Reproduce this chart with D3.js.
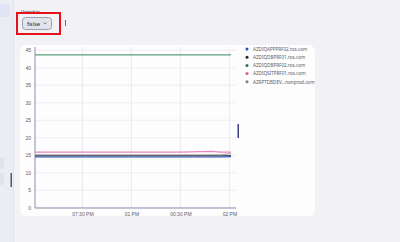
<!DOCTYPE html>
<html>
<head>
<meta charset="utf-8">
<script src="https://cdn.jsdelivr.net/npm/d3@7"></script>
<style>
  html, body { margin: 0; padding: 0; background: #f1f1f6; }
  body { width: 400px; height: 242px; overflow: hidden; font-family: "Noto Sans", "DejaVu Sans", sans-serif; }
  .tick text { fill: #555a66; font-size: 5px; }
</style>
</head>
<body>
<svg id="chart" width="400" height="242"></svg>
<script>
// series names and colours
var seriesNames = ["AZDIQAPPPRF02.ros.com", "AZDIQDBPRF01.ros.com", "AZDIQDBPRF02.ros.com", "AZDIQSITPRF01.ros.com", "AZRPTDBDEV...nonprod.com"];
var legendColors = ["#1b4fd0", "#222428", "#1f7a4c", "#e0559a", "#80808a"];
var lineColors = ["#3555c4", "#45474f", "#5aa27b", "#e887ba", "#a7a7ad"];

// sample times (HH:MM, PM afternoon)
var times = ["12:01", "12:30", "13:00", "13:30", "13:49", "13:55", "14:01"];
var blueVals   = [14.5, 14.5, 14.5, 14.5, 14.5, 14.5, 14.6];
var blackVals  = [14.8, 14.8, 14.8, 14.8, 14.8, 14.8, 14.9];
var greenVals  = [43.7, 43.7, 43.7, 43.7, 43.7, 43.7, 43.7];
var pinkVals   = [15.9, 15.9, 15.9, 15.9, 16.1, 15.9, 15.9];
var greyVals   = [15.1, 15.1, 15.1, 15.1, 15.1, 15.1, 15.5];
var allVals = [blueVals, blackVals, greenVals, pinkVals, greyVals];

var yTicks = [0, 5, 10, 15, 20, 25, 30, 35, 40, 45];
var xTickTimes = ["12:30", "13:00", "13:30", "14:00"];
var xTickLabels = ["07:30 PM", "01 PM", "00:30 PM", "02 PM"];

var parse = d3.timeParse("%H:%M");
var svg = d3.select("#chart");

// left sidebar
svg.append("rect").attr("x", 0).attr("y", 0).attr("width", 13).attr("height", 242).attr("fill", "#ececf3");
svg.append("line").attr("x1", 13.5).attr("x2", 13.5).attr("y1", 0).attr("y2", 242).attr("stroke", "#e2e2ea");
svg.append("rect").attr("x", -4).attr("y", 4).attr("width", 14).attr("height", 13).attr("rx", 3).attr("fill", "#e1e4f4");
svg.append("rect").attr("x", -4).attr("y", 157).attr("width", 8).attr("height", 12).attr("rx", 2).attr("fill", "#e2e2ea");
svg.append("rect").attr("x", -4).attr("y", 173).attr("width", 8).attr("height", 12).attr("rx", 2).attr("fill", "#e2e2ea");
svg.append("rect").attr("x", 10.5).attr("y", 173).attr("width", 1.5).attr("height", 14).attr("fill", "#55566e");

// variable picker
svg.append("text").attr("x", 21).attr("y", 14).attr("font-size", 5).attr("fill", "#3f4350").text("Variable");
svg.append("rect").attr("x", 22.5).attr("y", 17.5).attr("width", 29).attr("height", 12).attr("rx", 3)
  .attr("fill", "#e3e3ee").attr("stroke", "#8a8aa0").attr("stroke-width", 0.8);
svg.append("text").attr("x", 27).attr("y", 25.5).attr("font-size", 6).attr("fill", "#333").text("false");
svg.append("path").attr("d", "M43.5,22.5 L45,24 L46.5,22.5").attr("fill", "none").attr("stroke", "#555").attr("stroke-width", 0.7);
svg.append("rect").attr("x", 17).attr("y", 13).attr("width", 43).attr("height", 21)
  .attr("fill", "none").attr("stroke", "#e8101a").attr("stroke-width", 2);
svg.append("rect").attr("x", 65).attr("y", 20).attr("width", 1).attr("height", 6).attr("fill", "#6b6b80");

// card
svg.append("rect").attr("x", 20).attr("y", 45).attr("width", 295).attr("height", 171).attr("rx", 6).attr("fill", "#fdfdfe");

var x = d3.scaleTime().domain([parse("12:01"), parse("14:01")]).range([35, 231]);
var y = d3.scaleLinear().domain([0, 45]).range([207.7, 50.3]);

// grid
svg.append("g").selectAll("line").data(yTicks).join("line")
  .attr("x1", 35).attr("x2", 236).attr("y1", function(d) { return y(d); }).attr("y2", function(d) { return y(d); })
  .attr("stroke", "#ebebf1").attr("stroke-width", 0.8);
svg.append("g").selectAll("line").data(xTickTimes).join("line")
  .attr("x1", function(d) { return x(parse(d)); }).attr("x2", function(d) { return x(parse(d)); })
  .attr("y1", 47).attr("y2", 208).attr("stroke", "#e6e6ee").attr("stroke-width", 0.8);

// axes
var yAxis = svg.append("g").attr("transform", "translate(35,0)")
  .call(d3.axisLeft(y).tickValues(yTicks).tickSize(0).tickPadding(4));
yAxis.select(".domain").attr("stroke", "#8e8eaa").attr("stroke-width", 1).attr("d", "M0,47V208");

var xAxis = svg.append("g").attr("transform", "translate(0,208)")
  .call(d3.axisBottom(x).tickValues(xTickTimes.map(parse)).tickSize(0).tickPadding(4)
    .tickFormat(function(d, i) { return xTickLabels[i]; }));
xAxis.select(".domain").attr("stroke", "#8e8eaa").attr("stroke-width", 1).attr("d", "M35,0H236");

// lines
var line = d3.line().x(function(d) { return x(d.t); }).y(function(d) { return y(d.v); });
[2, 3, 4, 1, 0].forEach(function(s) {
  var pts = times.map(function(t, i) { return {t: parse(t), v: allVals[s][i]}; });
  svg.append("path").datum(pts).attr("d", line).attr("fill", "none")
    .attr("stroke", lineColors[s]).attr("stroke-width", 1.2);
});

// legend
var legend = svg.append("g").selectAll("g").data(seriesNames).join("g")
  .attr("transform", function(d, i) { return "translate(247," + (49 + i * 8.2) + ")"; });
legend.append("circle").attr("r", 1.5).attr("fill", function(d, i) { return legendColors[i]; });
legend.append("text").attr("x", 6).attr("y", 1.7).attr("font-size", 4.6).attr("fill", "#555a66").text(function(d) { return d; });

// stray marker
svg.append("rect").attr("x", 237.5).attr("y", 124).attr("width", 1.5).attr("height", 14).attr("fill", "#3d3f8a");
</script>
</body>
</html>
